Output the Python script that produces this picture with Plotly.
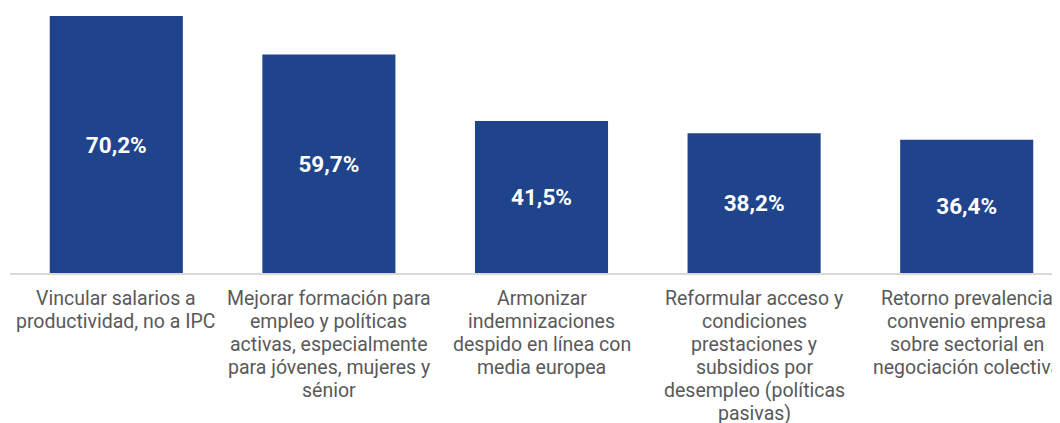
import plotly.graph_objects as go

categories = [
    "Vincular salarios a<br>productividad, no a IPC",
    "Mejorar formación para<br>empleo y políticas<br>activas, especialmente<br>para jóvenes, mujeres y<br>sénior",
    "Armonizar<br>indemnizaciones<br>despido en línea con<br>media europea",
    "Reformular acceso y<br>condiciones<br>prestaciones y<br>subsidios por<br>desempleo (políticas<br>pasivas)",
    "Retorno prevalencia<br>convenio empresa<br>sobre sectorial en<br>negociación colectiva",
]
values = [70.2, 59.7, 41.5, 38.2, 36.4]
labels = [f"{v:.1f}%".replace(".", ",") for v in values]

xpos = list(range(len(categories)))

fig = go.Figure(
    go.Bar(
        x=xpos,
        y=values,
        text=labels,
        textposition="inside",
        insidetextanchor="middle",
        textangle=0,
        textfont=dict(family="Roboto", size=22.5, color="white", weight="bold"),
        marker=dict(color="#1f448b", line=dict(width=0)),
    )
)

# category labels, one annotation per text line (tighter line spacing than tick labels)
LINE_H = 23
for i, cat in enumerate(categories):
    for j, line in enumerate(cat.split("<br>")):
        fig.add_annotation(
            x=i, xref="x", y=0, yref="y",
            text=line, showarrow=False,
            xanchor="center", yanchor="top",
            yshift=-(12 + j * LINE_H),
            font=dict(family="Roboto", size=19.5, color="#595959"),
        )

fig.update_layout(
    width=1052,
    height=415,
    margin=dict(l=2, r=0, t=0, b=150),
    paper_bgcolor="white",
    plot_bgcolor="white",
    bargap=0.374,
    showlegend=False,
)
fig.update_xaxes(
    range=[-0.5, -0.5 + 1050 / 212.6],
    showticklabels=False,
    showline=True,
    linecolor="#d9d9d9",
    linewidth=1.5,
    showgrid=False,
    zeroline=False,
    ticks="",
)
fig.update_yaxes(
    range=[0, 265 / 3.661],
    visible=False,
    showgrid=False,
    zeroline=False,
)

fig.write_html("out.html")
